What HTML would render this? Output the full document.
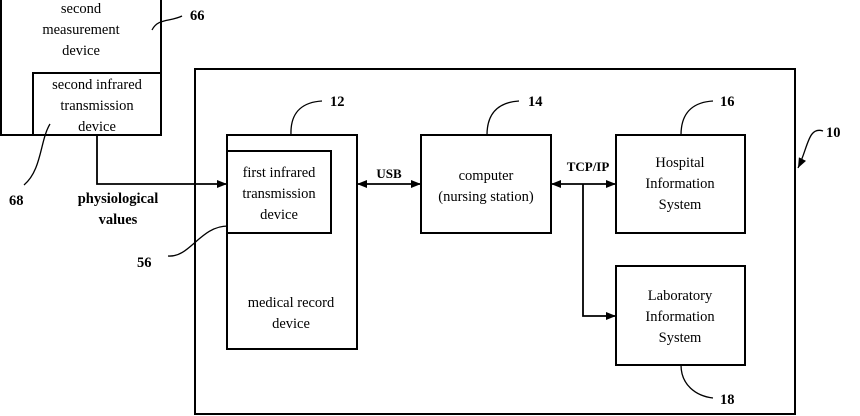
<!DOCTYPE html>
<html><head><meta charset="utf-8"><style>
html,body{margin:0;padding:0;background:#fff;}
svg{display:block;}
text{font-family:"Liberation Serif",serif;font-size:14.5px;fill:#000;}
.b{font-weight:bold;}
</style></head><body>
<svg width="860" height="416" viewBox="0 0 860 416" xmlns="http://www.w3.org/2000/svg">
<defs>
<marker id="a" markerWidth="10" markerHeight="8" refX="10" refY="4" orient="auto" markerUnits="userSpaceOnUse">
<path d="M0,0 L10,4 L0,8 z" fill="#000"/></marker>
<marker id="s" markerWidth="10" markerHeight="8" refX="0" refY="4" orient="auto" markerUnits="userSpaceOnUse">
<path d="M10,0 L0,4 L10,8 z" fill="#000"/></marker>
</defs>
<g fill="none" stroke="#000" stroke-width="2">
<rect x="195" y="69" width="600" height="345"/>
<path d="M1,-2 V135 H161 V-2"/>
<rect x="33" y="73" width="128" height="62"/>
<rect x="227" y="135" width="130" height="214"/>
<rect x="227" y="151" width="104" height="82"/>
<rect x="421" y="135" width="130" height="98"/>
<rect x="616" y="135" width="129" height="98"/>
<rect x="616" y="266" width="129" height="99"/>
</g>
<g fill="none" stroke="#000" stroke-width="1.8">
<path d="M97,135 V184 H227" marker-end="url(#a)"/>
<path d="M357,184 H421" marker-start="url(#s)" marker-end="url(#a)"/>
<path d="M551,184 H616" marker-start="url(#s)" marker-end="url(#a)"/>
<path d="M583,184 V316 H616" marker-end="url(#a)"/>
</g>
<g fill="none" stroke="#000" stroke-width="1.3">
<path d="M152,30 C158,18 170,22 182,16"/>
<path d="M50,124 C40,140 42,170 24,185"/>
<path d="M228,226 C200,226 190,258 168,256"/>
<path d="M291,135 C290,110 305,102 322,101"/>
<path d="M487,135 C487,110 502,102 519,101"/>
<path d="M681,135 C681,110 696,102 713,101"/>
<path d="M681,365 C681,385 696,396 713,398"/>
<path d="M823,131 C808,126 808,148 798,168" marker-end="url(#a)"/>
</g>
<g text-anchor="middle">
<text x="81" y="13">second</text>
<text x="81" y="34">measurement</text>
<text x="81" y="55">device</text>
<text x="97" y="89">second infrared</text>
<text x="97" y="110">transmission</text>
<text x="97" y="131">device</text>
<text x="279" y="177">first infrared</text>
<text x="279" y="198">transmission</text>
<text x="279" y="219">device</text>
<text x="291" y="307">medical record</text>
<text x="291" y="328">device</text>
<text x="486" y="180">computer</text>
<text x="486" y="201">(nursing station)</text>
<text x="680" y="167">Hospital</text>
<text x="680" y="188">Information</text>
<text x="680" y="209">System</text>
<text x="680" y="300">Laboratory</text>
<text x="680" y="321">Information</text>
<text x="680" y="342">System</text>
<text class="b" x="118" y="203">physiological</text>
<text class="b" x="118" y="224">values</text>
<text class="b" x="389" y="178" style="font-size:13px">USB</text>
<text class="b" x="588" y="171" style="font-size:13px">TCP/IP</text>
</g>
<g class="b">
<text class="b" x="190" y="20">66</text>
<text class="b" x="9" y="205">68</text>
<text class="b" x="137" y="267">56</text>
<text class="b" x="330" y="106">12</text>
<text class="b" x="528" y="106">14</text>
<text class="b" x="720" y="106">16</text>
<text class="b" x="720" y="404">18</text>
<text class="b" x="826" y="137">10</text>
</g>
</svg>
</body></html>
